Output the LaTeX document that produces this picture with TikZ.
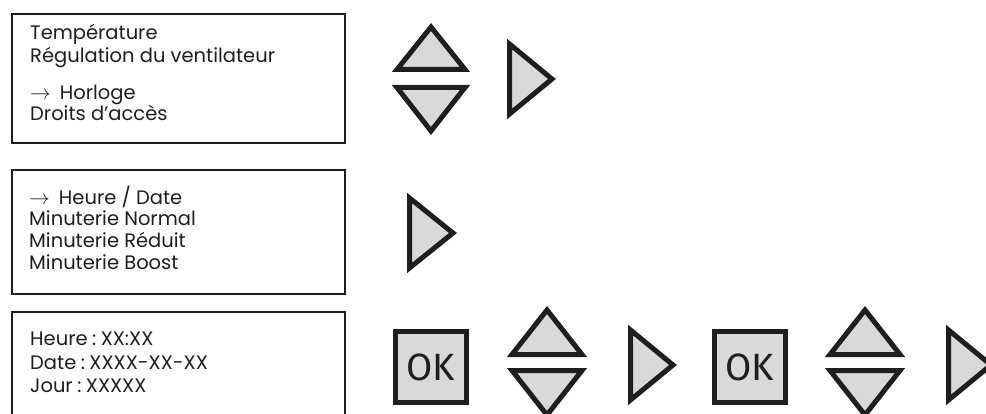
\documentclass[tikz,border=0pt]{standalone}
\usepackage{fontspec}
\setmainfont{Poppins}
\newfontfamily\okfont{Fira Sans}
\definecolor{ink}{HTML}{1E1E1E}
\definecolor{btnfill}{HTML}{D9D9D9}
\newcommand{\cln}{\hspace{4.5pt}:\hspace{4.5pt}}
\begin{document}
\begin{tikzpicture}[x=1pt,y=-1pt,
  panel/.style={draw=ink, line width=2pt},
  btn/.style={draw=ink, fill=btnfill, line width=5pt, line join=miter},
  okbtn/.style={btn, minimum size=71pt, inner sep=0pt, text=ink, font=\okfont\fontsize{38}{40}\selectfont},
  lbl/.style={anchor=base west, inner sep=0pt, text=ink, font=\fontsize{19.5}{22}\selectfont}]
\useasboundingbox (0,0) rectangle (986,414);
\clip (0,0) rectangle (986,414);

% menu panels
\draw[panel] (12,14) rectangle (345,143);
\draw[panel] (12,170) rectangle (345,294);
\draw[panel] (12,312) rectangle (345,430);

% panel 1 text
\node[lbl] (t11) at (30,40) {Température};
\node[lbl] (t12) at (30,63) {Régulation du ventilateur};
\node[lbl] (t13) at (30,100) {$\rightarrow$\hspace{9pt}Horloge};
\node[lbl] (t14) at (30,121) {Droits d’accès};

% panel 2 text
\node[lbl] (t21) at (29,205) {$\rightarrow$\hspace{9pt}Heure / Date};
\node[lbl] (t22) at (29,226) {Minuterie Normal};
\node[lbl] (t23) at (29,248) {Minuterie Réduit};
\node[lbl] (t24) at (29,270) {Minuterie Boost};

% panel 3 text
\node[lbl] (t31) at (30,345) {Heure\cln XX:XX};
\node[lbl] (t32) at (30,369) {Date\cln XXXX-XX-XX};
\node[lbl] (t33) at (30,392) {Jour\cln XXXXX};

% row 1 buttons
\draw[btn] (431,27) -- (465,69.5) -- (397,69.5) -- cycle;
\draw[btn] (397,87.5) -- (465,87.5) -- (431,131) -- cycle;
\draw[btn] (509.5,44) -- (552,79) -- (509.5,114) -- cycle;

% row 2 button
\draw[btn] (409.5,198) -- (453,233) -- (409.5,268) -- cycle;

% row 3 buttons
\node[okbtn] (ok1) at (431,367) {OK};
\draw[btn] (547,310) -- (582,354.5) -- (512,354.5) -- cycle;
\draw[btn] (512,370.5) -- (582,370.5) -- (547,415) -- cycle;
\draw[btn] (630.5,330) -- (673,365) -- (630.5,400) -- cycle;

\node[okbtn] (ok2) at (750,367) {OK};
\draw[btn] (865,310) -- (900,354.5) -- (830,354.5) -- cycle;
\draw[btn] (830,370.5) -- (900,370.5) -- (865,415) -- cycle;
\draw[btn] (948.5,330) -- (991,365) -- (948.5,400) -- cycle;
\end{tikzpicture}
\end{document}
